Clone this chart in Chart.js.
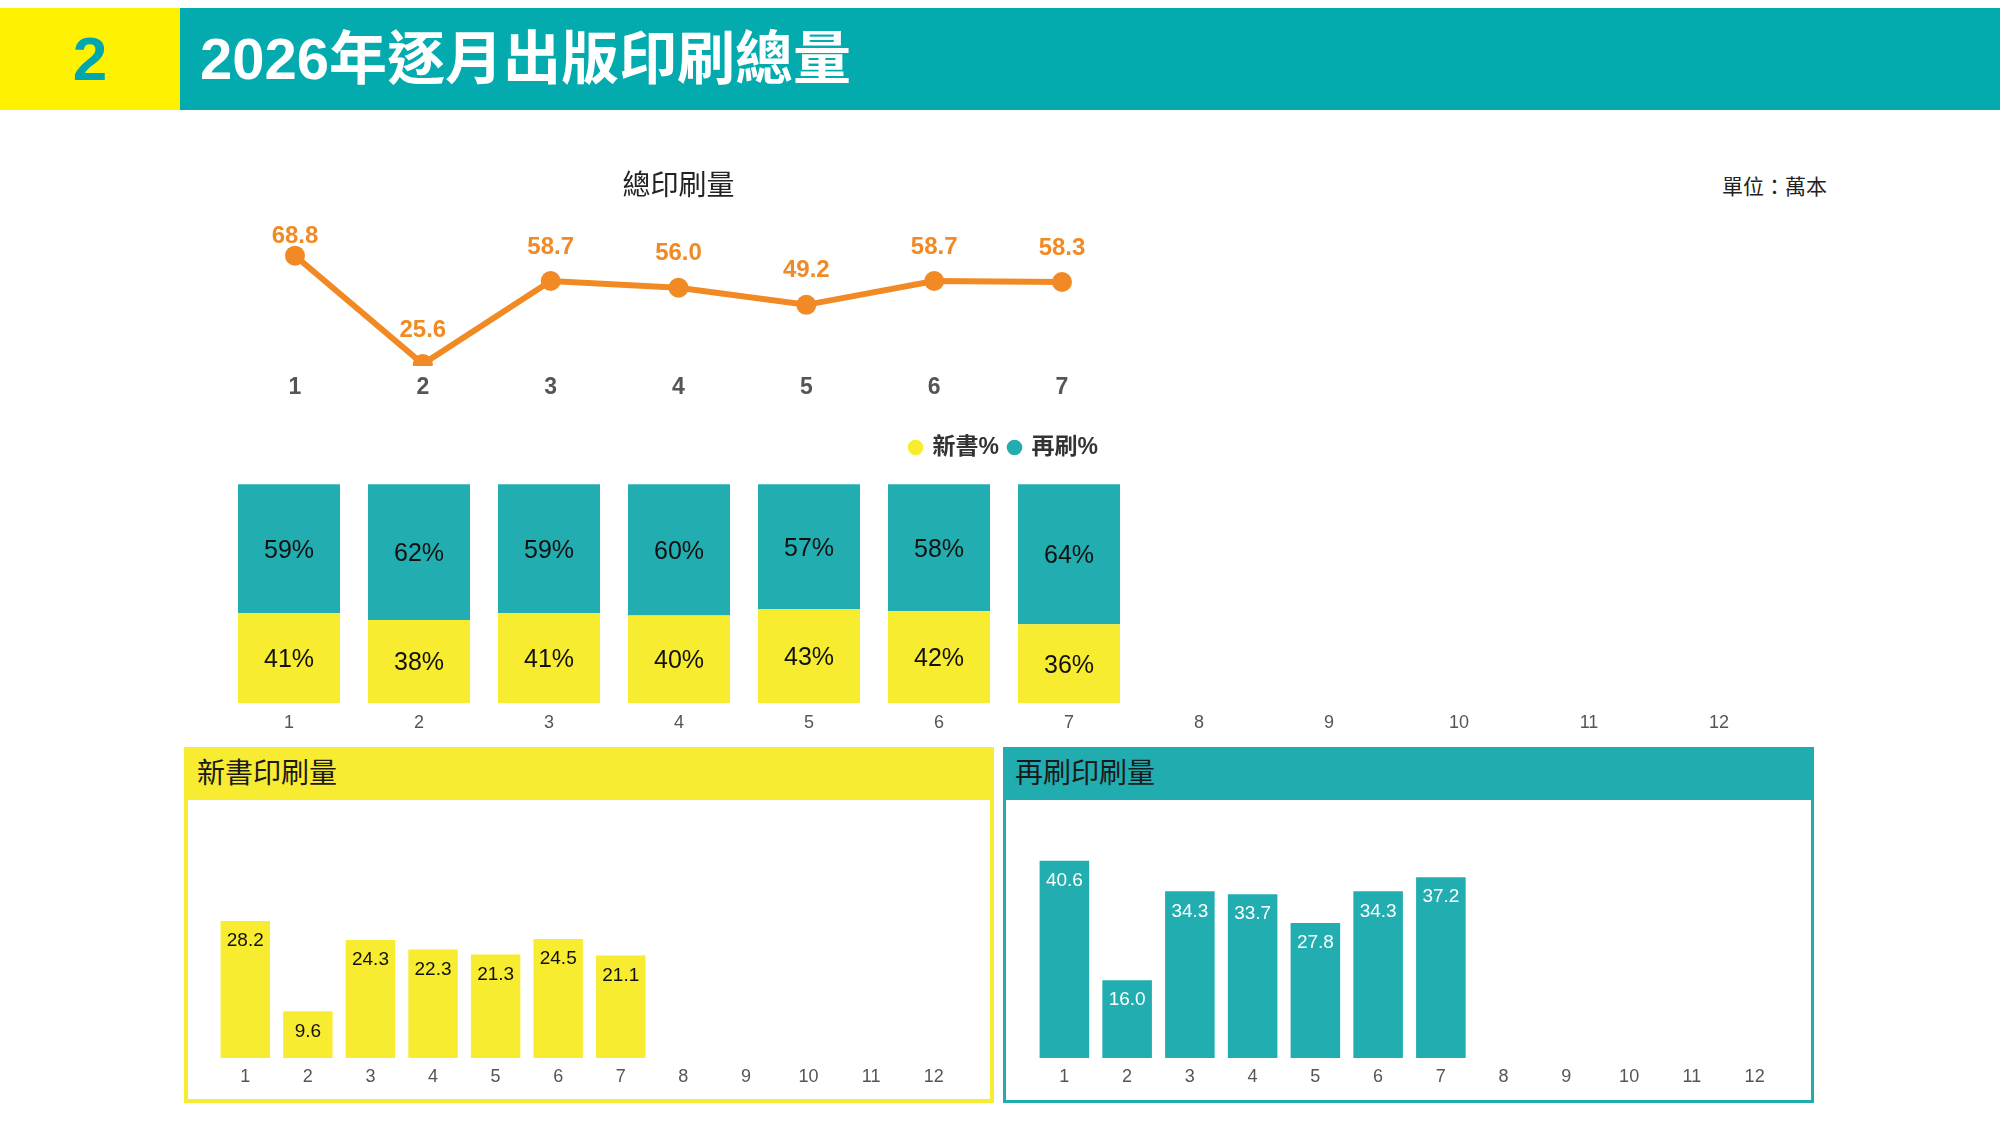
<!DOCTYPE html>
<html><head><meta charset="utf-8">
<script src="https://cdn.jsdelivr.net/npm/chart.js@4.4.1/dist/chart.umd.min.js"></script>
<style>
html,body{margin:0;padding:0;background:#fff;}
body{width:2000px;height:1141px;position:relative;overflow:hidden;font-family:"Liberation Sans","Noto Sans CJK TC",sans-serif;}
.abs{position:absolute;}
#hdrY{left:0;top:8px;width:180px;height:102px;background:#FFF200;color:#00A8AE;font-weight:bold;font-size:62px;line-height:102px;text-align:center;}
#hdrT{left:180px;top:8px;width:1820px;height:102px;background:#03AAAE;}
#hdrTitle{left:200px;top:8px;height:102px;line-height:102px;color:#fff;font-weight:bold;font-size:58px;white-space:nowrap;}
#unit{right:173px;top:176px;font-size:21px;line-height:22px;color:#222;white-space:nowrap;}
.panel{top:747px;height:356px;box-sizing:border-box;}
#pY{left:184px;width:810px;border:4px solid #F8EC33;}
#pT{left:1003px;width:811px;border:3px solid #21ADB0;}
.band{position:absolute;left:0;top:0;right:0;}
#pY .band{height:49px;background:#F8EC33;}
#pT .band{height:50px;background:#21ADB0;}
.ptitle{position:absolute;left:9px;font-size:28px;line-height:40px;color:#1a1a1a;white-space:nowrap;}
#pY .ptitle{top:3px;}
#pT .ptitle{top:4px;}
canvas{position:absolute;z-index:2;}
</style>
</head>
<body>
<div id="hdrY" class="abs">2</div>
<div id="hdrT" class="abs"></div>
<div id="hdrTitle" class="abs">2026年逐月出版印刷總量</div>
<div id="unit" class="abs">單位：萬本</div>
<div id="pY" class="abs panel"><div class="band"></div><div class="ptitle">新書印刷量</div></div>
<div id="pT" class="abs panel"><div class="band"></div><div class="ptitle">再刷印刷量</div></div>

<canvas id="cTotal" width="950" height="260" style="left:200px;top:152px;width:950px;height:260px;"></canvas>
<canvas id="cShare" width="1700" height="330" style="left:150px;top:420px;width:1700px;height:330px;"></canvas>
<canvas id="cNew" width="800" height="290" style="left:190px;top:805px;width:800px;height:290px;"></canvas>
<canvas id="cRe" width="800" height="290" style="left:1009px;top:805px;width:800px;height:290px;"></canvas>

<script>
// ---- data ----
const months7 = ['1','2','3','4','5','6','7'];
const months12 = ['1','2','3','4','5','6','7','8','9','10','11','12'];
const totalPrint = [68.8, 25.6, 58.7, 56.0, 49.2, 58.7, 58.3];
const newShare = [41, 38, 41, 40, 43, 42, 36];
const reprintShare = [59, 62, 59, 60, 57, 58, 64];
const newPrint = [28.2, 9.6, 24.3, 22.3, 21.3, 24.5, 21.1];
const reprintPrint = [40.6, 16.0, 34.3, 33.7, 27.8, 34.3, 37.2];

const FONT = '"Liberation Sans","Noto Sans CJK TC",sans-serif';
const ORANGE = '#F18A24';
const YEL = '#F8EC31';
const TEAL = '#22AEB0';

const valueLabels = {
  id: 'valueLabels',
  afterDatasetsDraw(chart) {
    const {ctx, chartArea} = chart;
    chart.data.datasets.forEach((ds, di) => {
      const cfg = ds.valueLabel;
      if (!cfg) return;
      const meta = chart.getDatasetMeta(di);
      ctx.save();
      ctx.font = cfg.font;
      ctx.fillStyle = cfg.color;
      ctx.textAlign = 'center';
      ctx.textBaseline = 'middle';
      meta.data.forEach((el, i) => {
        const v = ds.data[i];
        if (v === null || v === undefined) return;
        const p = el.getProps(['x', 'y', 'base'], true);
        let y;
        if (cfg.mode === 'above') {
          y = Math.max(p.y - cfg.offset, chartArea.top + 12);
        } else if (cfg.mode === 'center') {
          y = (p.y + p.base) / 2 + cfg.offset;
        } else {
          y = p.y + cfg.offset;
        }
        ctx.fillText(cfg.fmt(v), p.x, y);
      });
      ctx.restore();
    });
  }
};

const xAxis = (size, weight, pad, h) => ({
  grid: {display: false, drawTicks: false},
  border: {display: false},
  ticks: {padding: pad, color: '#555', font: {size: size, weight: weight, family: FONT}},
  afterFit(s) { s.height = h; }
});

// ---- total print line ----
new Chart(document.getElementById('cTotal'), {
  type: 'line',
  data: {labels: months7, datasets: [{
    data: totalPrint,
    borderColor: ORANGE, backgroundColor: ORANGE,
    borderWidth: 6, pointRadius: 10, pointHoverRadius: 10, pointBorderWidth: 0,
    pointBackgroundColor: ORANGE, tension: 0,
    clip: {left: 30, right: 30, top: 30, bottom: 2},
    valueLabel: {mode: 'above', offset: 34, color: ORANGE, font: 'bold 24px ' + FONT, fmt: v => v.toFixed(1)}
  }]},
  options: {
    responsive: false, animation: false,
    layout: {padding: {top: 0, left: 95, right: 88, bottom: 8}},
    plugins: {
      legend: {display: false}, tooltip: {enabled: false},
      title: {display: true, text: '總印刷量', color: '#222', font: {size: 28, weight: 'normal', family: FONT}, padding: {top: 18, bottom: 21}}
    },
    scales: {
      x: Object.assign({offset: false}, xAxis(23, 'bold', 10, 40)),
      y: {display: false, min: 25.6, max: 81.2}
    }
  },
  plugins: [valueLabels]
});

// ---- share stacked bars ----
new Chart(document.getElementById('cShare'), {
  type: 'bar',
  data: {labels: months12, datasets: [
    {label: '新書%', data: newShare, backgroundColor: YEL, borderWidth: 0,
     valueLabel: {mode: 'center', offset: 2, color: '#111', font: '25px ' + FONT, fmt: v => v + '%'}},
    {label: '再刷%', data: reprintShare, backgroundColor: TEAL, borderWidth: 0,
     valueLabel: {mode: 'center', offset: 2, color: '#111', font: '25px ' + FONT, fmt: v => v + '%'}}
  ]},
  options: {
    responsive: false, animation: false,
    barPercentage: 1, categoryPercentage: 0.785,
    layout: {padding: {top: 6, left: 74, right: 66, bottom: 12}},
    plugins: {
      tooltip: {enabled: false},
      legend: {display: true, position: 'top', labels: {usePointStyle: true, pointStyle: 'circle', boxWidth: 11, boxHeight: 11, padding: 10, color: '#333', font: {size: 23, weight: 'bold', family: FONT}}}
    },
    scales: {
      x: Object.assign({stacked: true}, xAxis(18, 'normal', 9, 35)),
      y: {stacked: true, display: false, min: 0, max: 107}
    }
  },
  plugins: [valueLabels]
});

// ---- new / reprint print bars ----
function printChart(id, values, color, labelColor, padRight) {
  new Chart(document.getElementById(id), {
    type: 'bar',
    data: {labels: months12, datasets: [{
      data: values, backgroundColor: color, borderWidth: 0,
      valueLabel: {mode: 'top', offset: 20, color: labelColor, font: '19px ' + FONT, fmt: v => v.toFixed(1)}
    }]},
    options: {
      responsive: false, animation: false,
      barPercentage: 1, categoryPercentage: 0.79,
      layout: {padding: {top: 10, left: 24, right: padRight, bottom: 2}},
      plugins: {legend: {display: false}, tooltip: {enabled: false}},
      scales: {
        x: xAxis(18, 'normal', 8, 35),
        y: {display: false, min: 0, max: 50}
      }
    },
    plugins: [valueLabels]
  });
}
printChart('cNew', newPrint, YEL, '#111', 25);
printChart('cRe', reprintPrint, TEAL, '#fff', 23);
</script>
</body></html>
